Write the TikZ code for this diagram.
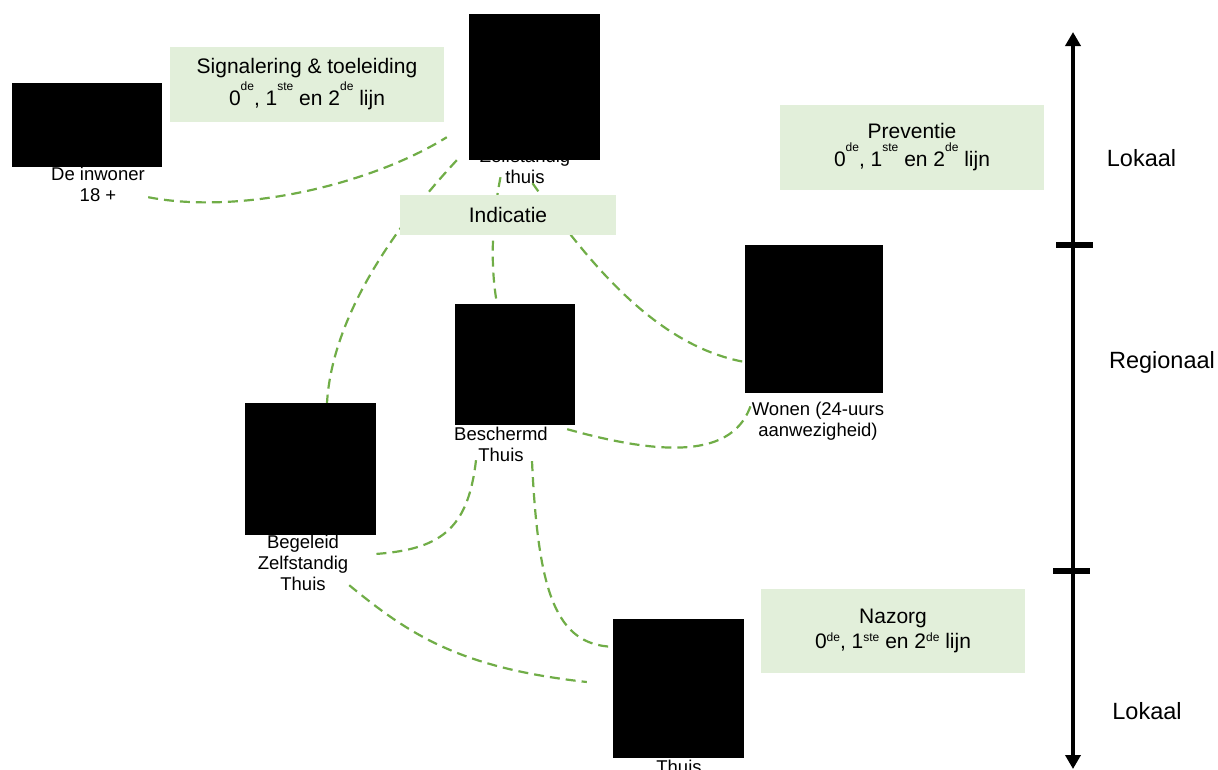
\documentclass[tikz,border=0pt]{standalone}
\usepackage{fontspec}
\setmainfont{Liberation Sans}
\usepackage{xcolor}
\usetikzlibrary{arrows.meta, backgrounds, calc}

\definecolor{lichtgroen}{HTML}{E2EFDA}
\definecolor{lijngroen}{HTML}{70AD47}

\newcommand{\hoogsup}[1]{\raisebox{15pt}{\fontsize{12}{12}\selectfont #1}}
\newcommand{\laagsup}[1]{\raisebox{7pt}{\fontsize{12}{12}\selectfont #1}}

\tikzset{
  foto/.style={fill=black, inner sep=0pt},
  vlak/.style={fill=lichtgroen, inner sep=0pt, align=center, font=\fontsize{21}{25}\selectfont},
  onderschrift/.style={inner sep=0pt, align=center, anchor=north, font=\fontsize{18.5}{21}\selectfont},
  verband/.style={lijngroen, line width=2.2pt, dash pattern=on 10pt off 6pt},
  niveau/.style={inner sep=0pt, font=\fontsize{23.5}{28}\selectfont}
}

\begin{document}
\begin{tikzpicture}[x=1pt, y=-1pt]
  \useasboundingbox (0,0) rectangle (1218,769);

  % onderschriften
  \node[onderschrift] at (98,166.5)  (inwlab)   {De inwoner\\18 +};
  \node[onderschrift] at (525,148.5) (zelflab)  {Zelfstandig\\thuis};
  \node[onderschrift] at (501,426.5) (beschlab) {Beschermd\\Thuis};
  \node[onderschrift] at (303,534.5) (begellab) {Begeleid\\Zelfstandig\\Thuis};
  \node[onderschrift] at (818,402)   (wonenlab) {Wonen (24-uurs\\aanwezigheid)};
  \node[onderschrift] at (679,738.5) (onderlab) {Zelfstandig\\Thuis};

  % foto's
  \node[foto, minimum width=150pt, minimum height=84pt]  at (87,125)      (inw)   {};
  \node[foto, minimum width=131pt, minimum height=146pt] at (534.5,87)    (zelf)  {};
  \node[foto, minimum width=120pt, minimum height=121pt] at (515,364.5)   (besch) {};
  \node[foto, minimum width=131pt, minimum height=132pt] at (310.5,469)   (begel) {};
  \node[foto, minimum width=138pt, minimum height=148pt] at (814,319)     (wonen) {};
  \node[foto, minimum width=131pt, minimum height=139pt] at (678.5,688.5) (onder) {};

  % groene vlakken
  \node[vlak, minimum width=274pt, minimum height=75pt] at (307,84.5) (signal)
    {Signalering \& toeleiding\\[3pt]0\hoogsup{de}, 1\hoogsup{ste} en 2\hoogsup{de} lijn};
  \node[vlak, minimum width=264pt, minimum height=85pt] at (912,147.5) (preventie)
    {Preventie\\[3pt]0\hoogsup{de}, 1\hoogsup{ste} en 2\hoogsup{de} lijn};
  \node[vlak, minimum width=216pt, minimum height=40pt] at (508,215) (indicatie) {Indicatie};
  \node[vlak, minimum width=264pt, minimum height=84pt] at (893,631) (nazorg)
    {Nazorg\\0\laagsup{de}, 1\laagsup{ste} en 2\laagsup{de} lijn};

  % schaal
  \coordinate (as-top) at (1073,32);
  \coordinate (as-bot) at (1073,769);
  \draw[line width=4pt, {Triangle[width=15pt,length=14pt]}-{Triangle[width=15pt,length=14pt]}] (as-top) -- (as-bot);
  \draw[line width=6pt] (1056,245) -- (1093,245);
  \draw[line width=6pt] (1053,571) -- (1090,571);
  \node[niveau] at (1141.5,158) (lok1) {Lokaal};
  \node[niveau] at (1162,362)   (reg)  {Regionaal};
  \node[niveau] at (1147,711)   (lok2) {Lokaal};

  % verbanden
  \begin{scope}[on background layer]
    \draw[verband] ($(inw.south east)+(-14,30)$) .. controls (240,215) and (370,185) .. ($(zelf.south west)+(-22,-23)$);
    \draw[verband] ($(zelf.south west)+(-12,0)$) .. controls (390,232) and (332,320) .. ($(begel.north)+(16.5,0)$);
    \draw[verband] ($(zelf.south)+(-34,17)$) .. controls (492,220) and (490,265) .. ($(besch.north)+(-18,0)$);
    \draw[verband] ($(zelf.south)+(-2,23)$) .. controls (580,250) and (650,345) .. ($(wonen.west)+(0,43)$);
    \draw[verband] ($(besch.south east)+(-8,4)$) .. controls (660,455) and (735,460) .. ($(wonen.south west)+(7,9)$);
    \draw[verband] ($(besch.south)+(-39,35)$) .. controls (468,530) and (440,550) .. ($(begel.south east)+(-4,19)$);
    \draw[verband] ($(besch.south)+(17,36)$) .. controls (538,590) and (555,645) .. ($(onder.north west)+(0,28)$);
    \draw[verband] ($(begel.south east)+(-27,50)$) .. controls (410,635) and (460,668) .. ($(onder.west)+(-26,-6.5)$);
  \end{scope}
\end{tikzpicture}
\end{document}
